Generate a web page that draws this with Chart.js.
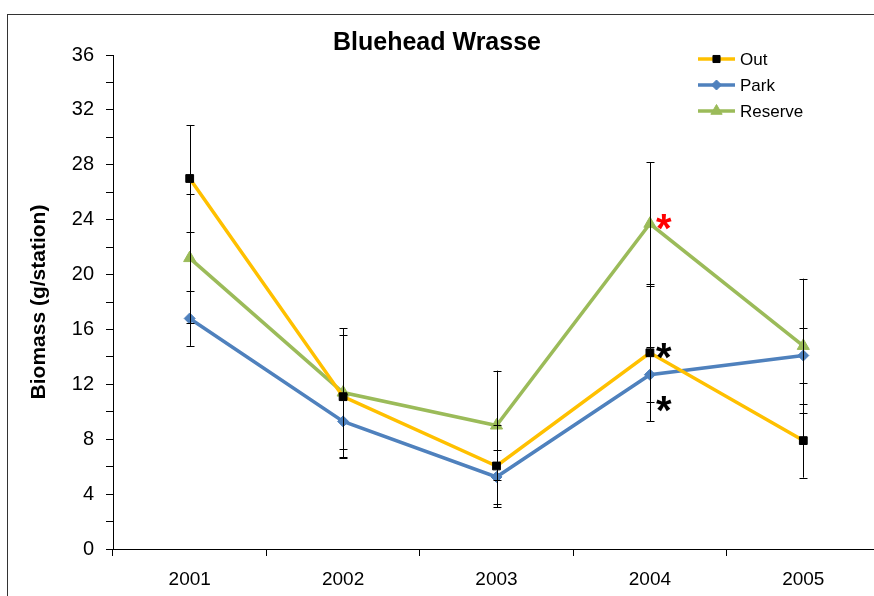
<!DOCTYPE html>
<html>
<head>
<meta charset="utf-8">
<script src="https://cdn.jsdelivr.net/npm/chart.js@4/dist/chart.umd.min.js"></script>
<style>
  html, body { margin: 0; padding: 0; background: #fff; overflow: hidden; }
  #wrap { position: absolute; left: 0; top: 0; width: 880px; height: 596px; }
</style>
</head>
<body>
<div id="wrap"><canvas id="c" width="880" height="596"></canvas></div>
<script>
// ---- data ----
const categories = ['2001', '2002', '2003', '2004', '2005'];
const seriesNames = ['Out', 'Park', 'Reserve'];
const outValues = [27.0, 11.1, 6.05, 14.3, 7.9];
const outErrors = [3.9, 4.5, 3.0, 5.0, 2.7];
const parkValues = [16.8, 9.3, 5.25, 12.7, 14.1];
const parkErrors = [2.0, 2.0, 2.0, 2.0, 2.0];
const reserveValues = [21.2, 11.4, 9.0, 23.7, 14.8];
const reserveErrors = [4.7, 4.7, 4.0, 4.5, 4.9];
const yMin = 0, yMax = 36, yLabelStep = 4, yMinorStep = 2;
const chartTitle = 'Bluehead Wrasse';
const yAxisTitle = 'Biomass (g/station)';
// significance marks: series index, category index, text, colour, anchor
const sigMarks = [
  { series: 2, cat: 3, text: '*', color: '#FF0000', anchor: 'value' },
  { series: 0, cat: 3, text: '*', color: '#000000', anchor: 'value' },
  { series: 1, cat: 3, text: '*', color: '#000000', anchor: 'low' }
];

const FONT = "'Liberation Sans', Arial, sans-serif";
const errorSets = [outErrors, parkErrors, reserveErrors];

function drawMarker(ctx, style, x, y, r, fill) {
  ctx.save();
  ctx.fillStyle = fill;
  ctx.strokeStyle = fill;
  ctx.lineWidth = 1;
  ctx.beginPath();
  if (style === 'rect') {
    const s = Math.SQRT1_2 * r;
    ctx.rect(x - s, y - s, 2 * s, 2 * s);
  } else if (style === 'rectRot') {
    ctx.moveTo(x - r, y); ctx.lineTo(x, y - r); ctx.lineTo(x + r, y); ctx.lineTo(x, y + r);
    ctx.closePath();
  } else if (style === 'triangle') {
    let a = 0;
    ctx.moveTo(x + Math.sin(a) * r, y - Math.cos(a) * r);
    a += 2 * Math.PI / 3;
    ctx.lineTo(x + Math.sin(a) * r, y - Math.cos(a) * r);
    a += 2 * Math.PI / 3;
    ctx.lineTo(x + Math.sin(a) * r, y - Math.cos(a) * r);
    ctx.closePath();
  }
  ctx.fill();
  ctx.stroke();
  ctx.restore();
}

const framePlugin = {
  id: 'frame',
  beforeDraw(chart) {
    const ctx = chart.ctx;
    ctx.save();
    ctx.fillStyle = '#fff';
    ctx.fillRect(0, 0, chart.width, chart.height);
    ctx.strokeStyle = '#333';
    ctx.lineWidth = 1;
    ctx.strokeRect(7.5, 14.5, 2000, 2000);
    // chart title
    ctx.fillStyle = '#000';
    ctx.font = 'bold 25px ' + FONT;
    ctx.textAlign = 'center';
    ctx.textBaseline = 'middle';
    ctx.fillText(chartTitle, 437, 43);
    ctx.restore();
  }
};

const errorBarPlugin = {
  id: 'errorBars',
  afterDatasetsDraw(chart) {
    const ctx = chart.ctx;
    const ys = chart.scales.y;
    ctx.save();
    ctx.strokeStyle = '#000';
    ctx.lineWidth = 1;
    chart.data.datasets.forEach((ds, i) => {
      const meta = chart.getDatasetMeta(i);
      const errs = errorSets[i];
      meta.data.forEach((pt, j) => {
        const v = ds.data[j], e = errs[j];
        const x = Math.round(pt.x) + 0.5;
        const yt = ys.getPixelForValue(v + e);
        const yb = ys.getPixelForValue(v - e);
        ctx.beginPath();
        ctx.moveTo(x, yt); ctx.lineTo(x, yb);
        ctx.moveTo(x - 4, Math.round(yt) + 0.5); ctx.lineTo(x + 4, Math.round(yt) + 0.5);
        ctx.moveTo(x - 4, Math.round(yb) + 0.5); ctx.lineTo(x + 4, Math.round(yb) + 0.5);
        ctx.stroke();
      });
    });
    ctx.restore();
  }
};

const sigPlugin = {
  id: 'sigMarks',
  afterDatasetsDraw(chart) {
    const ctx = chart.ctx;
    const ys = chart.scales.y;
    ctx.save();
    const size = 40;
    ctx.font = 'bold ' + size + 'px ' + FONT;
    ctx.textAlign = 'center';
    ctx.textBaseline = 'alphabetic';
    sigMarks.forEach(m => {
      const ds = chart.data.datasets[m.series];
      const pt = chart.getDatasetMeta(m.series).data[m.cat];
      const v = ds.data[m.cat];
      let cy, dy;
      if (m.anchor === 'low') { cy = ys.getPixelForValue(v - errorSets[m.series][m.cat]); dy = -2; }
      else { cy = pt.y; dy = -5; }
      ctx.fillStyle = m.color;
      ctx.fillText(m.text, pt.x + 14, cy + dy + 0.585 * size);
    });
    ctx.restore();
  }
};

const legendPlugin = {
  id: 'customLegend',
  afterDraw(chart) {
    const ctx = chart.ctx;
    ctx.save();
    const x0 = 698, x1 = 735, y0 = 59, gap = 26;
    chart.data.datasets.forEach((ds, i) => {
      const y = y0 + i * gap;
      ctx.strokeStyle = ds.borderColor;
      ctx.lineWidth = 3.5;
      ctx.beginPath();
      ctx.moveTo(x0, y); ctx.lineTo(x1, y);
      ctx.stroke();
      drawMarker(ctx, ds.pointStyle, (x0 + x1) / 2, y, ds.pointRadius - 0.5, ds.pointBackgroundColor);
      ctx.fillStyle = '#000';
      ctx.font = '17px ' + FONT;
      ctx.textAlign = 'left';
      ctx.textBaseline = 'middle';
      ctx.fillText(ds.label, x1 + 5, y + 1);
    });
    ctx.restore();
  }
};

new Chart(document.getElementById('c'), {
  type: 'line',
  data: {
    labels: categories,
    datasets: [
      { label: seriesNames[0], data: outValues, borderColor: '#FFC000', borderWidth: 3.5,
        pointStyle: 'rect', pointRadius: 5.5, pointBackgroundColor: '#000', pointBorderColor: '#000', pointBorderWidth: 1 },
      { label: seriesNames[1], data: parkValues, borderColor: '#4F81BD', borderWidth: 3.5,
        pointStyle: 'rectRot', pointRadius: 5.5, pointBackgroundColor: '#4F81BD', pointBorderColor: '#4F81BD', pointBorderWidth: 1 },
      { label: seriesNames[2], data: reserveValues, borderColor: '#9BBB59', borderWidth: 3.5,
        pointStyle: 'triangle', pointRadius: 7, pointBackgroundColor: '#9BBB59', pointBorderColor: '#9BBB59', pointBorderWidth: 1 }
    ]
  },
  options: {
    responsive: false,
    animation: false,
    devicePixelRatio: 1,
    layout: { autoPadding: false, padding: { top: 55, left: 0, right: 0, bottom: 0 } },
    plugins: {
      legend: { display: false },
      tooltip: { enabled: false },
      title: { display: false }
    },
    scales: {
      x: {
        type: 'category',
        offset: true,
        grid: { display: true, drawOnChartArea: false, drawTicks: true, tickLength: 7, offset: true, color: '#000' },
        border: { display: true, color: '#000', width: 1 },
        ticks: { color: '#000', font: { family: FONT, size: 19 }, padding: 12, maxRotation: 0 },
        afterFit(s) { s.height = 47; }
      },
      y: {
        min: yMin, max: yMax,
        grid: { display: true, drawOnChartArea: false, drawTicks: true, tickLength: 7, color: '#000' },
        border: { display: true, color: '#000', width: 1 },
        ticks: {
          stepSize: yMinorStep, color: '#000', padding: 12,
          font: { family: FONT, size: 20 },
          callback: (v) => (v % yLabelStep === 0 ? String(v) : '')
        },
        title: {
          display: true, text: yAxisTitle, color: '#000',
          font: { family: FONT, size: 21, weight: 'bold', lineHeight: 1.2 },
          padding: { top: 27, bottom: 0 }
        },
        afterFit(s) { s.width = 113; }
      }
    }
  },
  plugins: [framePlugin, errorBarPlugin, sigPlugin, legendPlugin]
});
</script>
</body>
</html>
